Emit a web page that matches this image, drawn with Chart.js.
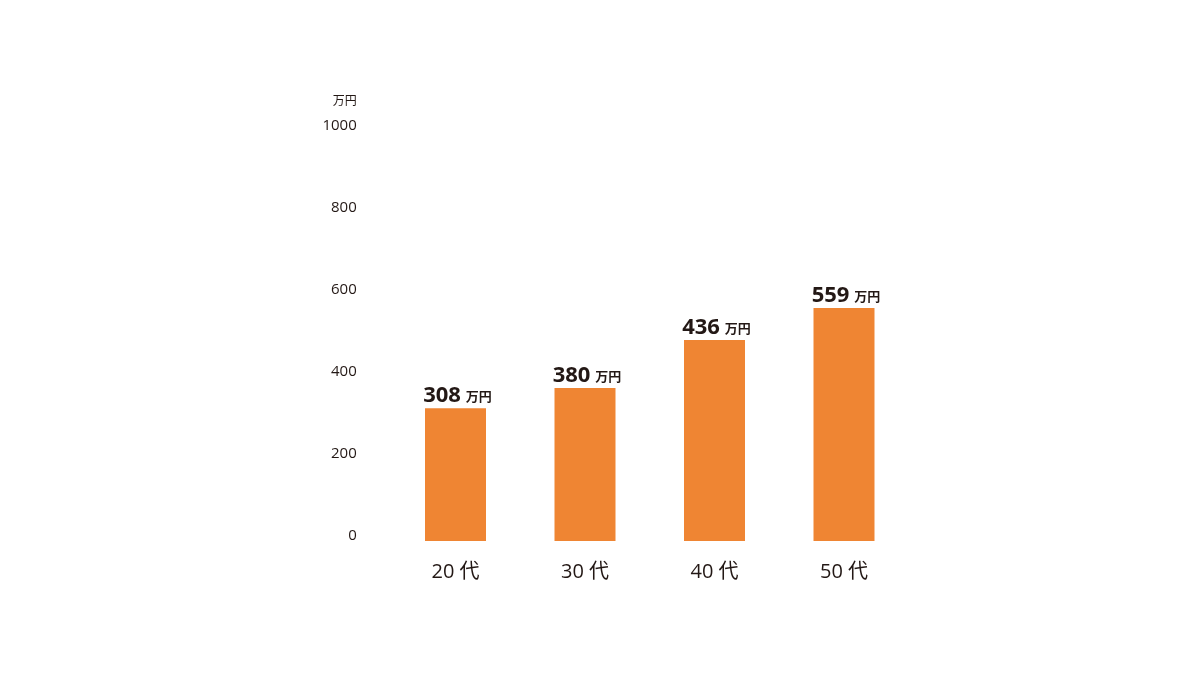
<!DOCTYPE html>
<html><head><meta charset="utf-8">
<script src="https://cdn.jsdelivr.net/npm/chart.js@4/dist/chart.umd.min.js"></script>
<style>html,body{margin:0;padding:0;background:#fff;}#wrap{width:1200px;height:680px;}</style>
</head><body><div id="wrap"><canvas id="c" width="1200" height="680"></canvas></div>
<script>
const categories = ['20 代', '30 代', '40 代', '50 代'];
const barValues = [324, 373, 490, 568];
const labelNumbers = ['308', '380', '436', '559'];
const unitLabel = '万円';
const yTicks = [0, 200, 400, 600, 800, 1000];

const TXT = '#231815';
const FONT = "'Open Sans', 'Noto Sans CJK JP', sans-serif";

const labelPlugin = {
  id: 'labels',
  afterDatasetsDraw(chart) {
    const ctx = chart.ctx;
    const meta = chart.getDatasetMeta(0);
    ctx.save();
    ctx.fillStyle = TXT;
    ctx.textBaseline = 'alphabetic';
    meta.data.forEach((bar, i) => {
      const num = labelNumbers[i];
      ctx.font = "bold 22px " + FONT;
      const w1 = ctx.measureText(num).width;
      ctx.font = "bold 13px 'Noto Sans CJK JP', sans-serif";
      const w2 = ctx.measureText(unitLabel).width;
      const gap = 5;
      const total = w1 + gap + w2;
      const x0 = bar.x - total / 2 + 2;
      const y = bar.y - 6;
      ctx.textAlign = 'left';
      ctx.font = "bold 22px " + FONT;
      ctx.fillText(num, x0, y);
      ctx.font = "bold 13px 'Noto Sans CJK JP', sans-serif";
      ctx.fillText(unitLabel, x0 + w1 + gap, y - 1);
    });
    const ys = chart.scales.y;
    ctx.font = "12px 'Noto Sans CJK JP', sans-serif";
    ctx.textAlign = 'right';
    ctx.textBaseline = 'middle';
    ctx.fillText(unitLabel, ys.right - 34, ys.getPixelForValue(1000) - 31);
    ctx.restore();
  }
};

new Chart(document.getElementById('c'), {
  type: 'bar',
  data: {
    labels: categories,
    datasets: [{
      data: barValues,
      backgroundColor: '#EF8533',
      borderWidth: 0,
      barPercentage: 0.471,
      categoryPercentage: 1.0
    }]
  },
  options: {
    responsive: false,
    animation: false,
    layout: { padding: { left: 300, right: 291.25, top: 131, bottom: 0 } },
    plugins: { legend: { display: false }, tooltip: { enabled: false } },
    scales: {
      x: {
        grid: { display: false, drawTicks: false },
        border: { display: false },
        ticks: { color: TXT, font: { family: FONT, size: 20 }, padding: 19 },
        afterFit(s) { s.height = 139; }
      },
      y: {
        min: 0, max: 1000,
        afterBuildTicks(s) { s.ticks = yTicks.map(v => ({ value: v })); },
        grid: { display: false, drawTicks: false },
        border: { display: false },
        ticks: { color: TXT, font: { family: FONT, size: 15 }, padding: 34, labelOffset: -5,
                 callback: v => String(v) },
        afterFit(s) { s.width = 90.75; }
      }
    }
  },
  plugins: [labelPlugin]
});
</script></body></html>
